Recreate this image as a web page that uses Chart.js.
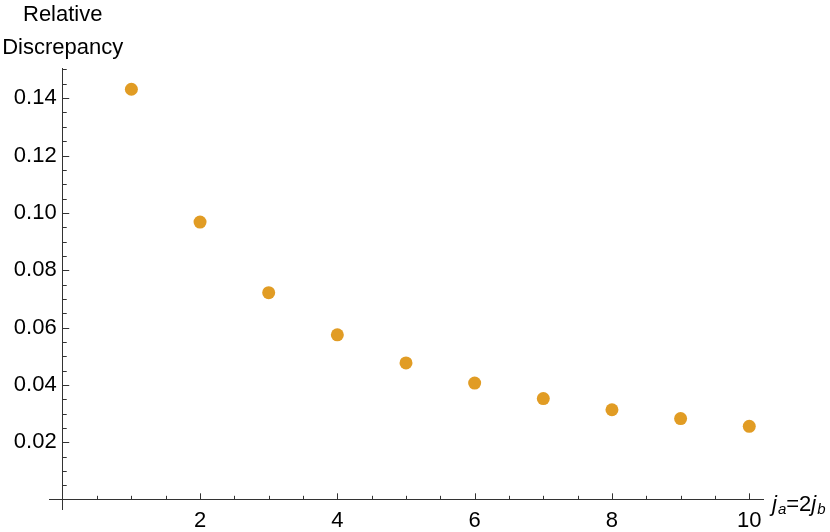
<!DOCTYPE html>
<html>
<head>
<meta charset="utf-8">
<script src="https://cdn.jsdelivr.net/npm/chart.js@4"></script>
<style>
  html, body { margin: 0; padding: 0; background: #fff; }
  #wrap { width: 830px; height: 532px; }
</style>
</head>
<body>
<div id="wrap"><canvas id="chart" width="830" height="532"></canvas></div>
<script>
// Valeurs
const jValues = [1, 2, 3, 4, 5, 6, 7, 8, 9, 10];
const discrepancy = [0.1431, 0.0968, 0.0722, 0.0575, 0.0477, 0.0407, 0.0353, 0.0314, 0.0283, 0.0256];

// Graduations
const xMajorTicks = [2, 4, 6, 8, 10];
const xMinorTicks = [0.5, 1, 1.5, 2.5, 3, 3.5, 4.5, 5, 5.5, 6.5, 7, 7.5, 8.5, 9, 9.5];
const yMajorTicks = [0.02, 0.04, 0.06, 0.08, 0.10, 0.12, 0.14];
const yMinorTicks = [0.005, 0.01, 0.015, 0.025, 0.03, 0.035, 0.045, 0.05, 0.055,
  0.065, 0.07, 0.075, 0.085, 0.09, 0.095, 0.105, 0.11, 0.115, 0.125, 0.13, 0.135, 0.145, 0.15];

const yTitleLines = ['Relative', 'Discrepancy'];

const AXIS_COLOR = '#333333';
const FONT = '"Liberation Sans", Arial, sans-serif';

function isMajor(list, v) {
  return list.some(m => Math.abs(m - v) < 1e-9);
}

// Ticks vers l'intérieur, comme Mathematica
const inwardTicks = {
  id: 'inwardTicks',
  afterDraw(chart) {
    const { ctx, scales: { x, y } } = chart;
    const x0 = x.getPixelForValue(0);
    const y0 = y.getPixelForValue(0);
    ctx.save();
    ctx.strokeStyle = AXIS_COLOR;
    ctx.lineWidth = 1;
    ctx.beginPath();
    x.ticks.forEach(t => {
      const px = Math.round(x.getPixelForValue(t.value)) + 0.5;
      const len = isMajor(xMajorTicks, t.value) ? 6.5 : 4;
      ctx.moveTo(px, y0);
      ctx.lineTo(px, y0 - len);
    });
    y.ticks.forEach(t => {
      const py = Math.round(y.getPixelForValue(t.value)) + 0.5;
      const len = isMajor(yMajorTicks, t.value) ? 6.5 : 4;
      ctx.moveTo(x0, py);
      ctx.lineTo(x0 + len, py);
    });
    ctx.stroke();

    // titre de l'axe y, centré sur l'axe
    ctx.fillStyle = '#000';
    ctx.font = '22px ' + FONT;
    ctx.textAlign = 'center';
    ctx.textBaseline = 'alphabetic';
    ctx.fillText(yTitleLines[0], x0, 21);
    ctx.fillText(yTitleLines[1], x0, 54);

    // titre de l'axe x : j_a=2j_b
    const parts = [
      { t: 'j', font: 'italic 22px ' + FONT, dy: 0 },
      { t: 'a', font: 'italic 15px ' + FONT, dy: 3 },
      { t: '=2', font: '22px ' + FONT, dy: 0 },
      { t: 'j', font: 'italic 22px ' + FONT, dy: 0 },
      { t: 'b', font: 'italic 15px ' + FONT, dy: 3 }
    ];
    ctx.textAlign = 'left';
    let cx = x.right + 9;
    const base = y0 + 11;
    parts.forEach(p => {
      ctx.font = p.font;
      ctx.fillText(p.t, cx, base + p.dy);
      cx += ctx.measureText(p.t).width + (p.t === 'j' ? 1 : 0);
    });
    ctx.restore();
  }
};

const ctx = document.getElementById('chart').getContext('2d');
window.discrepancyChart = new Chart(ctx, {
  type: 'scatter',
  data: {
    datasets: [{
      label: 'Relative Discrepancy',
      data: jValues.map((j, i) => ({ x: j, y: discrepancy[i] })),
      backgroundColor: '#E19C24',
      borderColor: '#E19C24',
      borderWidth: 0,
      pointRadius: 6.5,
      pointHoverRadius: 6.5
    }]
  },
  options: {
    responsive: false,
    animation: false,
    devicePixelRatio: 1,
    layout: { padding: { left: 49, right: 67, top: 68, bottom: 23 } },
    plugins: {
      legend: { display: false },
      tooltip: { enabled: false },
      title: { display: false }
    },
    scales: {
      x: {
        type: 'linear',
        position: { y: 0 },
        min: -0.2,
        max: 10.2,
        afterBuildTicks: scale => {
          scale.ticks = xMinorTicks.concat(xMajorTicks).sort((a, b) => a - b).map(v => ({ value: v }));
        },
        grid: { display: true, drawOnChartArea: false, drawTicks: false },
        border: { display: true, color: AXIS_COLOR, width: 1 },
        ticks: {
          autoSkip: false,
          maxRotation: 0,
          padding: 8,
          color: '#000',
          font: { family: FONT, size: 22 },
          callback: v => isMajor(xMajorTicks, v) ? String(v) : ''
        }
      },
      y: {
        type: 'linear',
        position: { x: 0 },
        min: -0.0032,
        max: 0.1505,
        afterBuildTicks: scale => {
          scale.ticks = yMinorTicks.concat(yMajorTicks).sort((a, b) => a - b).map(v => ({ value: v }));
        },
        grid: { display: true, drawOnChartArea: false, drawTicks: false },
        border: { display: true, color: AXIS_COLOR, width: 1 },
        ticks: {
          autoSkip: false,
          color: '#000',
          font: { family: FONT, size: 22 },
          // l'axe positionné ignore le padding : espace final pour l'écart
          callback: v => isMajor(yMajorTicks, v) ? v.toFixed(2) + ' ' : ''
        }
      }
    }
  },
  plugins: [inwardTicks]
});
</script>
</body>
</html>
